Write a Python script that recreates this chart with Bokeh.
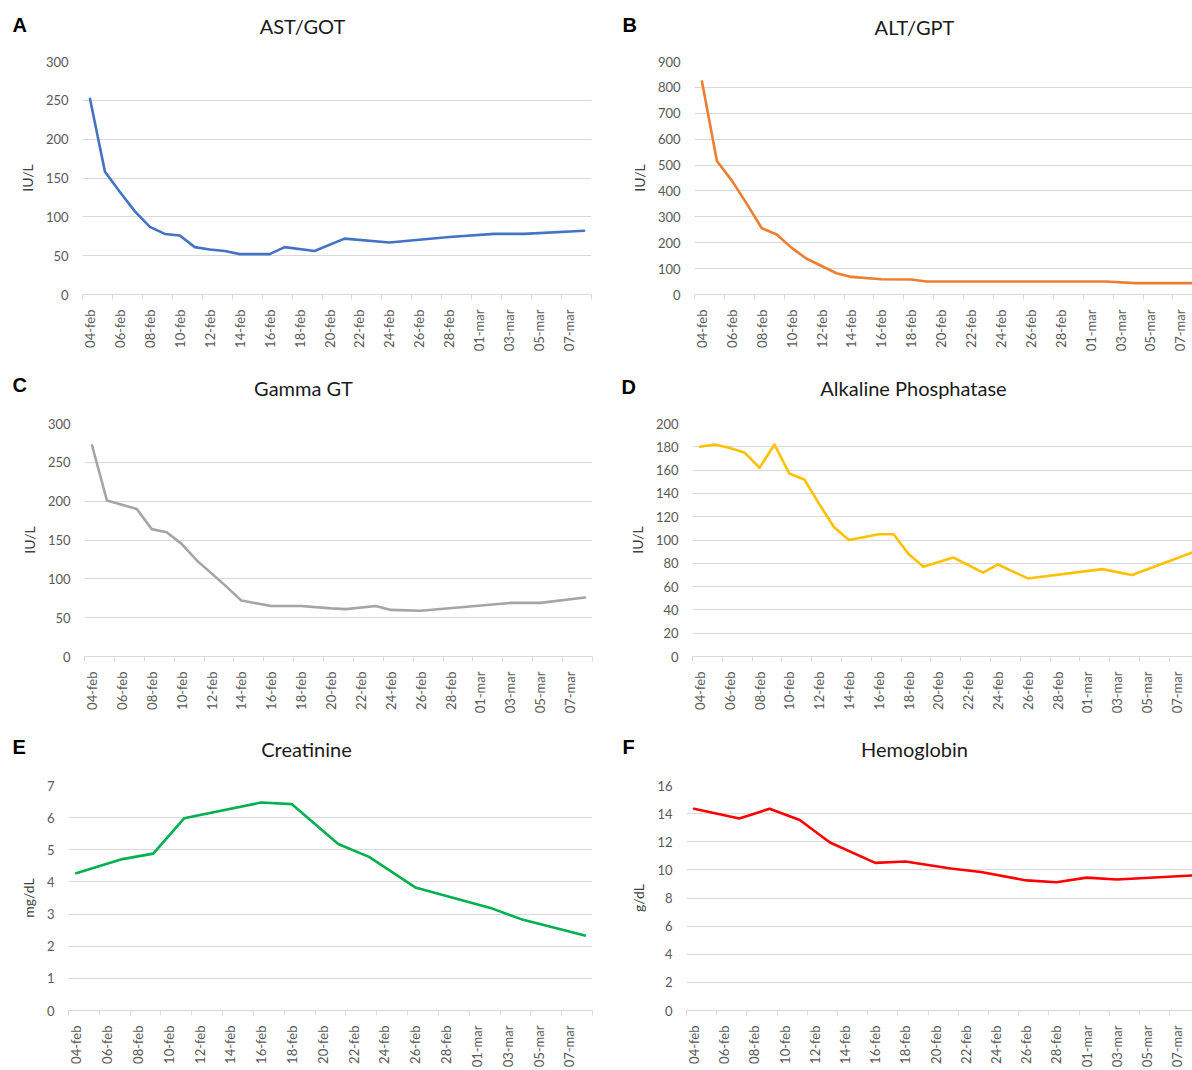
import numpy as np
import pandas as pd
from bokeh.plotting import figure
from bokeh.layouts import column, row
from bokeh.models import FixedTicker
from bokeh.core.properties import value
from bokeh.embed import file_html
from bokeh.resources import INLINE

# ---------------- data ----------------
day_labels = list(pd.date_range("2020-02-04", "2020-03-08", freq="D").strftime("%d-%b").str.lower())
tick_labels = ["04-feb", "06-feb", "08-feb", "10-feb", "12-feb", "14-feb", "16-feb", "18-feb",
               "20-feb", "22-feb", "24-feb", "26-feb", "28-feb", "01-mar", "03-mar", "05-mar", "07-mar"]

ast_dates = ["04-feb", "05-feb", "06-feb", "07-feb", "08-feb", "09-feb", "10-feb", "11-feb", "12-feb",
             "13-feb", "14-feb", "16-feb", "17-feb", "19-feb", "21-feb", "24-feb", "28-feb", "02-mar",
             "04-mar", "08-mar"]
ast_vals = [252, 158, 132, 107, 87, 78, 76, 61, 58, 56, 52, 52, 61, 56, 72, 67, 74, 78, 78, 82]

alt_dates = ["04-feb", "05-feb", "06-feb", "07-feb", "08-feb", "09-feb", "10-feb", "11-feb", "12-feb",
             "13-feb", "14-feb", "16-feb", "18-feb", "19-feb", "02-mar", "04-mar", "08-mar"]
alt_vals = [823, 516, 440, 350, 256, 232, 180, 138, 110, 82, 68, 59, 58, 50, 50, 44, 44]

ggt_dates = ["04-feb", "05-feb", "07-feb", "08-feb", "09-feb", "10-feb", "11-feb", "12-feb", "13-feb",
             "14-feb", "16-feb", "18-feb", "20-feb", "21-feb", "23-feb", "24-feb", "26-feb", "03-mar",
             "05-mar", "08-mar"]
ggt_vals = [272, 201, 190, 164, 160, 145, 124, 107, 90, 72, 65, 65, 62, 61, 65, 60, 59, 69, 69, 76]

alp_dates = ["04-feb", "05-feb", "06-feb", "07-feb", "08-feb", "09-feb", "10-feb", "11-feb", "12-feb",
             "13-feb", "14-feb", "16-feb", "17-feb", "18-feb", "19-feb", "21-feb", "23-feb", "24-feb",
             "26-feb", "02-mar", "04-mar", "08-mar"]
alp_vals = [180, 182, 179, 175, 162, 182, 157, 152, 131, 111, 100, 105, 105, 88, 77, 85, 72, 79, 67, 75, 70, 89]

cre_dates = ["04-feb", "07-feb", "09-feb", "11-feb", "16-feb", "18-feb", "21-feb", "23-feb", "26-feb",
             "02-mar", "04-mar", "08-mar"]
cre_vals = [4.27, 4.71, 4.88, 5.98, 6.47, 6.42, 5.18, 4.78, 3.83, 3.17, 2.82, 2.33]

hb_dates = ["04-feb", "07-feb", "09-feb", "11-feb", "13-feb", "16-feb", "18-feb", "21-feb", "23-feb",
            "26-feb", "28-feb", "01-mar", "03-mar", "08-mar"]
hb_vals = [14.35, 13.65, 14.35, 13.55, 11.95, 10.5, 10.6, 10.1, 9.85, 9.25, 9.12, 9.45, 9.32, 9.6]

titles_row1 = ["AST/GOT", "ALT/GPT"]
titles_row2 = ["Gamma GT", "Alkaline Phosphatase"]
titles_row3 = ["Creatinine", "Hemoglobin"]
letters_row1 = ["A", "B"]
letters_row2 = ["C", "D"]
letters_row3 = ["E", "F"]

FONT = "Lato"
GRID = "#d9d9d9"
TICKC = "#595959"
W = 1192
HH = 45


def make_header(titles, letters, title_x, title_y, letter_x, letter_y):
    h = figure(width=W, height=HH, output_backend="svg", toolbar_location=None,
               x_range=(0, W), y_range=(HH, 0), x_axis_type=None, y_axis_type=None,
               min_border=0, min_border_left=0, min_border_right=0,
               min_border_top=0, min_border_bottom=0)
    h.outline_line_color = None
    h.grid.visible = False
    h.text(x=title_x, y=title_y, text=titles, text_font=value(FONT), text_font_size="20px",
           text_color="#1a1a1a", text_align="center", text_baseline="alphabetic")
    h.text(x=letter_x, y=letter_y, text=letters, text_font=value("Liberation Sans"),
           text_font_size="20px", text_font_style="bold", text_color="black",
           text_align="left", text_baseline="alphabetic")
    return h


def make_panel(dates, vals, color, ylabel, y_end, y_step,
               width, height, bl, br, bt, bb, x_end):
    p = figure(width=width, height=height, output_backend="svg", toolbar_location=None,
               x_range=(-0.5, x_end), y_range=(0, y_end),
               min_border_left=bl, min_border_right=br, min_border_top=bt, min_border_bottom=bb)
    p.outline_line_color = None
    p.background_fill_color = "white"
    p.border_fill_color = "white"

    xs = [day_labels.index(d) for d in dates]
    p.line(xs, vals, line_color=color, line_width=2.6, line_join="round", line_cap="round")

    # x axis
    major = list(range(0, 33, 2))
    minor = [-0.5 + 2 * k for k in range(18)]
    p.xaxis.ticker = FixedTicker(ticks=major, minor_ticks=minor)
    p.xaxis.major_label_overrides = {t: lab for t, lab in zip(major, tick_labels)}
    p.xaxis.major_label_orientation = np.pi / 2
    p.xaxis.major_tick_line_color = None
    p.xaxis.major_tick_out = 0
    p.xaxis.major_tick_in = 0
    p.xaxis.minor_tick_line_color = GRID
    p.xaxis.minor_tick_out = 5
    p.xaxis.minor_tick_in = 0
    p.xaxis.axis_line_color = GRID
    p.xaxis.major_label_standoff = 10
    p.xaxis.major_label_text_font = FONT
    p.xaxis.major_label_text_font_size = "13px"
    p.xaxis.major_label_text_color = TICKC
    p.xgrid.grid_line_color = None

    # y axis
    yt = list(np.arange(0, y_end + y_step / 2, y_step))
    p.yaxis.ticker = FixedTicker(ticks=yt)
    p.yaxis.axis_line_color = None
    p.yaxis.major_tick_line_color = None
    p.yaxis.minor_tick_line_color = None
    p.yaxis.major_tick_out = 0
    p.yaxis.major_tick_in = 0
    p.yaxis.major_label_standoff = 14
    p.yaxis.major_label_text_font = FONT
    p.yaxis.major_label_text_font_size = "13px"
    p.yaxis.major_label_text_color = TICKC
    p.yaxis.axis_label = ylabel
    p.yaxis.axis_label_text_font = FONT
    p.yaxis.axis_label_text_font_size = "14px"
    p.yaxis.axis_label_text_font_style = "normal"
    p.yaxis.axis_label_text_color = "#404040"
    p.yaxis.axis_label_standoff = 7
    p.ygrid.grid_line_color = GRID
    p.ygrid.grid_line_width = 1
    return p


# row 1 (0..360)
h1 = make_header(titles_row1, letters_row1, [302, 914], [25, 26], [12, 622], [24, 24])
pA = make_panel(ast_dates, ast_vals, "#4472C4", "IU/L", 300, 50,
                600, 315, 82, 9, 16, 66, 33.5)
pB = make_panel(alt_dates, alt_vals, "#ED7D31", "IU/L", 900, 100,
                592, 315, 94, 0, 16, 65, -0.5 + 498 / 14.95)
# row 2 (360..720)
h2 = make_header(titles_row2, letters_row2, [303, 913], [27, 27], [12, 621], [24, 26])
pC = make_panel(ggt_dates, ggt_vals, "#A5A5A5", "IU/L", 300, 50,
                600, 315, 84, 8, 18, 64, 33.5)
pD = make_panel(alp_dates, alp_vals, "#FFC000", "IU/L", 200, 20,
                592, 315, 92, 0, 18, 64, -0.5 + 500 / 14.9)
# row 3 (720..1070)
h3 = make_header(titles_row3, letters_row3, [306, 914], [28, 28], [12, 622], [26, 26])
pE = make_panel(cre_dates, cre_vals, "#00B050", "mg/dL", 7, 1,
                600, 305, 68, 8, 20, 51, 33.5)
pF = make_panel(hb_dates, hb_vals, "#FF0000", "g/dL", 16, 2,
                592, 305, 86, 0, 18, 52, -0.5 + 506 / 15.1)

layout = column(h1, row(pA, pB), h2, row(pC, pD), h3, row(pE, pF))

open("out.html", "w").write(file_html(layout, INLINE))
